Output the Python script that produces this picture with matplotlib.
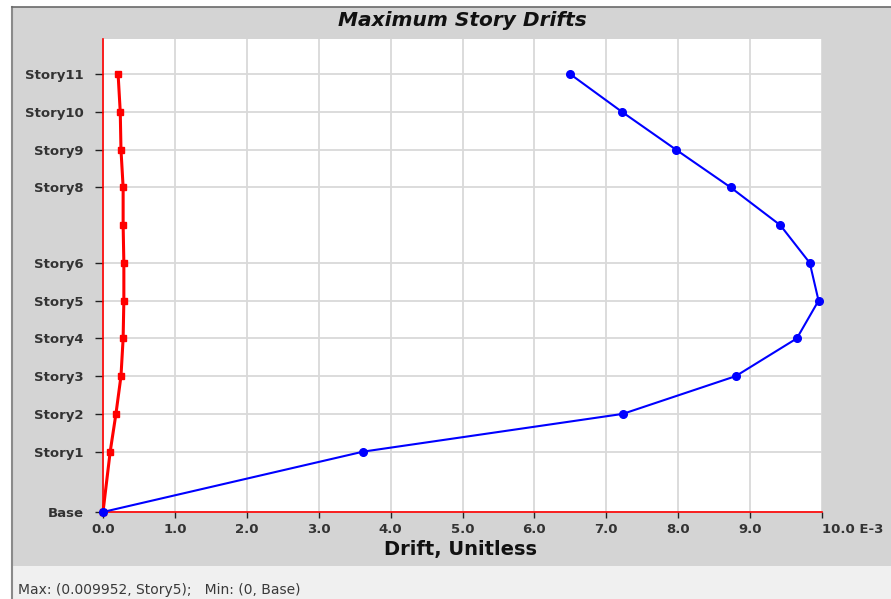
import matplotlib.pyplot as plt
from matplotlib.patches import Rectangle

plt.rcParams["font.family"] = ["DejaVu Sans"]

# story levels (elevation, m)
stories = ["Base", "Story1", "Story2", "Story3", "Story4", "Story5",
           "Story6", "Story7", "Story8", "Story9", "Story10", "Story11"]
elevations = [0.0, 4.8, 7.8, 10.8, 13.8, 16.8, 19.8, 22.8, 25.8, 28.8, 31.8, 34.8]

# drifts in units of 1E-3
drift_x = [0.0, 3.62, 7.23, 8.80, 9.65, 9.952, 9.83, 9.42, 8.73, 7.97, 7.22, 6.50]
drift_y = [0.0, 0.10, 0.18, 0.25, 0.28, 0.29, 0.29, 0.28, 0.28, 0.25, 0.24, 0.21]

tick_stories = ["Base", "Story1", "Story2", "Story3", "Story4", "Story5",
                "Story6", "Story8", "Story9", "Story10", "Story11"]
x_ticks = [0, 1, 2, 3, 4, 5, 6, 7, 8, 9, 10]
x_ticklabels = ["0.0", "1.0", "2.0", "3.0", "4.0", "5.0", "6.0", "7.0", "8.0", "9.0", "10.0 E-3"]

W, H = 891, 599
fig = plt.figure(figsize=(W / 100, H / 100), dpi=100)
fig.patch.set_facecolor("white")

# panel background, frame and status bar
fig.add_artist(Rectangle((12 / W, 33 / H), 1, 559 / H, transform=fig.transFigure,
                         facecolor="#d4d4d4", edgecolor="none", zorder=0))
fig.add_artist(Rectangle((12 / W, 0), 1, 33 / H, transform=fig.transFigure,
                         facecolor="#f0f0f0", edgecolor="none", zorder=0))
fig.add_artist(plt.Line2D([12 / W, 12 / W], [0, 592 / H], transform=fig.transFigure,
                          color="#8a8a8a", linewidth=1.5))
fig.add_artist(plt.Line2D([12 / W, 1], [592 / H, 592 / H], transform=fig.transFigure,
                          color="#6a6a6a", linewidth=1.2))

ax = fig.add_axes([103 / W, 87 / H, 719 / W, 473 / H])
ax.set_facecolor("white")

lvl = dict(zip(stories, elevations))

ax.plot(drift_y, elevations, color="#ff0000", linewidth=2.2, marker="s",
        markersize=5, zorder=3, clip_on=False)
ax.plot(drift_x, elevations, color="#0000ff", linewidth=1.5, marker="o",
        markersize=5.5, zorder=4, clip_on=False)

ax.set_xlim(0, 10)
ax.set_ylim(0, 37.6)
ax.set_xticks(x_ticks)
ax.set_xticklabels(x_ticklabels)
ax.set_yticks([lvl[s] for s in tick_stories])
ax.set_yticklabels(tick_stories)
ax.grid(True, color="#d9d9d9", linewidth=1.3, zorder=1)
ax.set_axisbelow(True)

for side in ["top", "right"]:
    ax.spines[side].set_visible(False)
for side in ["left", "bottom"]:
    ax.spines[side].set_color("#ff0000")
    ax.spines[side].set_linewidth(1.2)
    ax.spines[side].set_zorder(2)

ax.tick_params(axis="y", length=6, width=1, color="#222222", pad=8,
               labelsize=9.5, labelcolor="#333333")
ax.tick_params(axis="x", length=4, width=1, color="#222222", pad=4,
               labelsize=9.5, labelcolor="#333333")
for lab in ax.get_xticklabels() + ax.get_yticklabels():
    lab.set_fontweight("bold")
ax.get_xticklabels()[-1].set_horizontalalignment("left")
ax.get_xticklabels()[-1].set_x(9.83)

fig.text(462 / W, 1 - 21 / H, "Maximum Story Drifts", ha="center", va="center",
         fontsize=14.5, fontweight="bold", fontstyle="italic", color="#111111")
fig.text(461 / W, 1 - 549 / H, "Drift, Unitless", ha="center", va="center",
         fontsize=14, fontweight="bold", color="#111111")
fig.text(18 / W, 1 - 590 / H, "Max: (0.009952, Story5);   Min: (0, Base)",
         ha="left", va="center", fontsize=10, color="#3a3a3a")

fig.savefig("out.png", dpi=100)
